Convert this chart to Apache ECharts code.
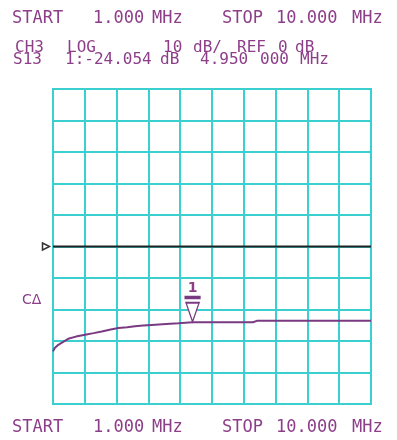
<!DOCTYPE html>
<html>
<head>
<meta charset="utf-8">
<script src="https://cdn.jsdelivr.net/npm/echarts@6/dist/echarts.min.js"></script>
<style>html,body{margin:0;padding:0;background:#fff}#c{width:397px;height:440px}</style>
</head>
<body>
<div id="c"></div>
<script>
// ---- data ----
const freqMHz = [1.0, 1.05, 1.15, 1.3, 1.43, 1.65, 1.91, 2.15, 2.38, 2.6, 2.85, 3.1, 3.32, 3.55, 3.79, 4.2, 4.55, 4.6, 4.95, 5.4, 5.8, 6.2, 6.66, 6.77, 7.5, 8.5, 9.2, 10.0];
const s13dB   = [-33.3, -32.2, -31.2, -30.2, -29.3, -28.6, -28.0, -27.5, -27.0, -26.4, -25.9, -25.6, -25.3, -25.1, -24.9, -24.6, -24.4, -24.1, -24.054, -24.05, -24.05, -24.05, -24.05, -23.6, -23.6, -23.6, -23.6, -23.6];
const refLine = [[1.0, 0], [10.0, 0]];
const marker = { freq: 4.95, value: -24.054, label: '1' };
const xRange = [1.0, 10.0];
const yRange = [-50, 50];
const yStep = 10;
const topLine1 = ['START', '1.000', 'MHz', 'STOP', '10.000', 'MHz'];
const topLine2 = ['CH3', 'LOG', '10', 'dB/', 'REF', '0', 'dB'];
const topLine3 = ['S13', '1:-24.054', 'dB', '4.950', '000', 'MHz'];
const bottomLine = ['START', '1.000', 'MHz', 'STOP', '10.000', 'MHz'];
const sideLabel = 'CΔ';

// ---- layout / style ----
const TXT = '#8d3e89';
const GRIDC = '#3ccfd0';
const TRACE = '#7a3a82';
const F1 = '17px "DejaVu Sans Mono", monospace';
const F2 = '16px "DejaVu Sans Mono", monospace';
const xs1 = [12, 93, 152, 222, 276, 352];
const xs2 = [15, 67, 163, 193, 237, 278, 295];
const xs3 = [13, 65, 160, 200, 260, 300];

function row(words, xs, y, font) {
  return words.map((w, i) => ({
    type: 'text', x: xs[i], y: y, silent: true,
    style: { text: w, fill: TXT, font: font, verticalAlign: 'middle' }
  }));
}

const graphic = [].concat(
  row(topLine1, xs1, 19, F1),
  row(topLine2, xs2, 48, F2),
  row(topLine3, xs3, 60, F2),
  row(bottomLine, xs1, 428, F1),
  [{ type: 'text', x: 22, y: 300, silent: true,
     style: { text: sideLabel, fill: TXT, font: '14px "DejaVu Sans", sans-serif', verticalAlign: 'middle' } }]
);

const chart = echarts.init(document.getElementById('c'), null, { renderer: 'canvas' });
chart.setOption({
  backgroundColor: '#fff',
  animation: false,
  grid: { left: 53, top: 89, width: 318, height: 315, show: true, borderColor: GRIDC, borderWidth: 2 },
  xAxis: [
    { type: 'value', min: xRange[0], max: xRange[1], show: false },
    { type: 'value', min: 0, max: 10, interval: 1, position: 'bottom',
      axisLine: { show: false }, axisTick: { show: false }, axisLabel: { show: false },
      splitLine: { show: true, lineStyle: { color: GRIDC, width: 2 } } }
  ],
  yAxis: {
    type: 'value', min: yRange[0], max: yRange[1], interval: yStep,
    axisLine: { show: false }, axisTick: { show: false }, axisLabel: { show: false },
    splitLine: { show: true, lineStyle: { color: GRIDC, width: 2 } }
  },
  graphic: graphic,
  series: [
    {
      type: 'line', xAxisIndex: 0, data: refLine, symbol: 'none', silent: true,
      lineStyle: { color: '#222', width: 2 },
      markPoint: {
        silent: true,
        data: [{ coord: [xRange[0], 0], symbol: 'path://M0,0 L10,5 L0,10 Z', symbolSize: [7, 7], symbolOffset: [-7, 0],
                 itemStyle: { color: '#fff', borderColor: '#333', borderWidth: 1.5 }, label: { show: false } }]
      }
    },
    {
      type: 'line', xAxisIndex: 0, data: freqMHz.map((f, i) => [f, s13dB[i]]), symbol: 'none', silent: true,
      lineStyle: { color: TRACE, width: 2 },
      markPoint: {
        silent: true,
        data: [{
          coord: [marker.freq, marker.value],
          symbol: 'path://M0,0 L16,0 L16,1.5 L0,1.5 Z M1,6 L15,6 L8,25 Z',
          symbolSize: [15, 25], symbolOffset: [0, -13],
          itemStyle: { color: '#fff', borderColor: TRACE, borderWidth: 1.5 },
          label: { show: true, formatter: marker.label, position: 'top', distance: 0,
                   color: TXT, fontSize: 14, fontWeight: 'bold', fontFamily: 'DejaVu Sans' }
        }]
      }
    }
  ]
});
</script>
</body>
</html>
